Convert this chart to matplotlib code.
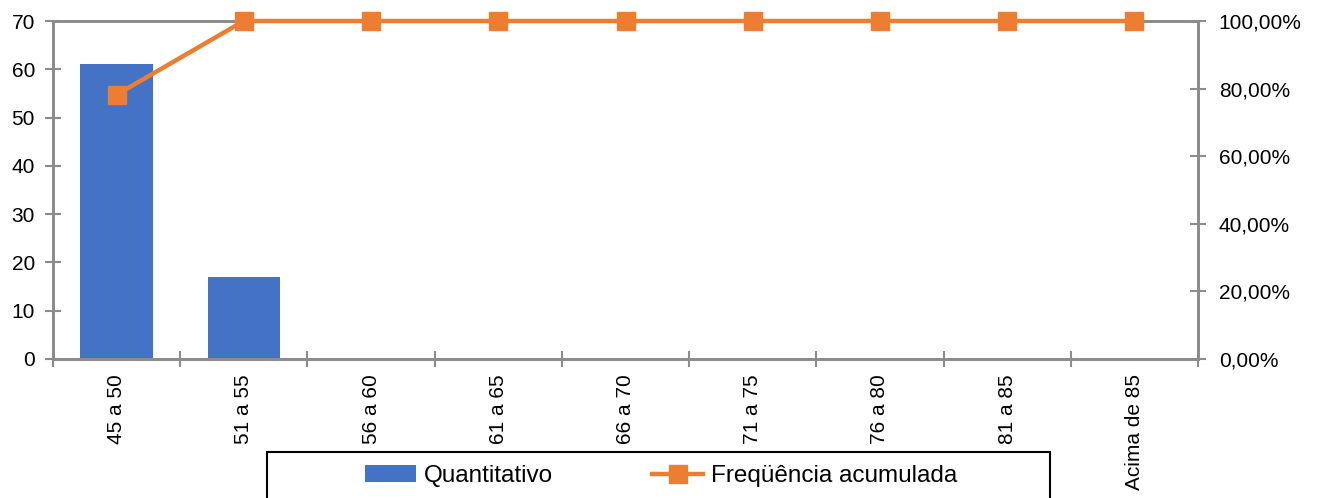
import matplotlib
matplotlib.use('Agg')
import matplotlib.pyplot as plt
from matplotlib.ticker import FuncFormatter, FixedLocator, NullFormatter

categorias = ['45 a 50', '51 a 55', '56 a 60', '61 a 65', '66 a 70',
              '71 a 75', '76 a 80', '81 a 85', 'Acima de 85']
quantitativo = [61, 17, 0, 0, 0, 0, 0, 0, 0]
freq_acumulada = [78.21, 100, 100, 100, 100, 100, 100, 100, 100]

azul = '#4472C4'
laranja = '#ED7D31'
cinza = '#8c8c8c'

plt.rcParams['font.family'] = ['Liberation Sans', 'DejaVu Sans']

fig = plt.figure(figsize=(13.17, 4.98), dpi=100)
ax1 = fig.add_axes([53/1317, 1-359/498, (1198-53)/1317, (359-21)/498])
ax2 = ax1.twinx()

x = list(range(len(categorias)))
barras = ax1.bar(x, quantitativo, width=0.57, color=azul, zorder=2)
linha, = ax2.plot(x, freq_acumulada, color=laranja, lw=3.2, marker='s',
                  markersize=12.5, zorder=3, clip_on=False)

ax1.set_xlim(-0.5, len(categorias)-0.5)
ax1.set_ylim(0, 70)
ax1.set_yticks(range(0, 71, 10))
ax2.set_ylim(0, 100)
ax2.set_yticks(range(0, 101, 20))
ax2.yaxis.set_major_formatter(FuncFormatter(lambda v, p: ('%.2f%%' % v).replace('.', ',')))

ax1.set_xticks(x)
ax1.set_xticklabels(categorias, rotation=90, fontsize=15)
ax1.tick_params(axis='x', which='major', length=0, pad=11)
ax1.xaxis.set_minor_locator(FixedLocator([i-0.5 for i in range(len(categorias)+1)]))
ax1.xaxis.set_minor_formatter(NullFormatter())
ax1.tick_params(axis='x', which='minor', length=12, direction='inout', color=cinza, width=1.5)
ax1.tick_params(axis='y', labelsize=15, length=12, direction='inout', color=cinza, width=1.5, pad=7)
ax2.tick_params(axis='y', labelsize=15, length=12, direction='inout', color=cinza, width=1.5, pad=9)

for a in (ax1, ax2):
    for s in a.spines.values():
        s.set_color(cinza)
        s.set_linewidth(2)

ax2.set_zorder(ax1.get_zorder()+1)
ax2.patch.set_visible(False)

# legenda centrada numa caixa de 267 a 1050 px
fig.patches.append(plt.Rectangle((267/1317, -0.05), (1050-267)/1317, 0.05+(498-452)/498,
                                 transform=fig.transFigure, fill=False,
                                 edgecolor='black', linewidth=1.5))
leg = fig.legend([barras, linha], ['Quantitativo', 'Freqüência acumulada'],
                 loc='center', bbox_to_anchor=(661/1317, 1-476/498),
                 ncol=2, frameon=False, handlelength=2.1, handletextpad=0.3,
                 columnspacing=4.1,
                 prop={'family': ['Liberation Sans Narrow', 'Liberation Sans', 'DejaVu Sans'], 'size': 17.5})

fig.savefig('out.png', dpi=100)
